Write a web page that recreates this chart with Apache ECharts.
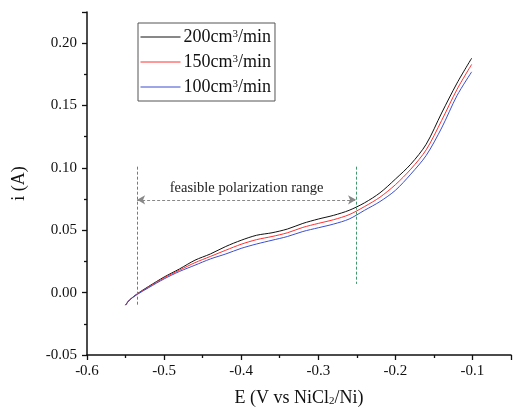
<!DOCTYPE html>
<html><head><meta charset="utf-8">
<script src="https://cdn.jsdelivr.net/npm/echarts@6/dist/echarts.min.js"></script>
<style>html,body{margin:0;padding:0;background:#fff}#c{width:514px;height:412px}</style>
</head><body><div id="c"></div>
<script>
const E = [-0.55,-0.545,-0.535,-0.52,-0.50,-0.48,-0.46,-0.44,-0.42,-0.40,-0.38,-0.36,-0.34,-0.32,-0.30,-0.28,-0.26,-0.24,-0.22,-0.20,-0.18,-0.16,-0.14,-0.12,-0.101];
const i200 = [-0.010,-0.006,-0.001,0.005,0.0125,0.019,0.026,0.031,0.037,0.042,0.046,0.048,0.051,0.0555,0.059,0.062,0.066,0.072,0.080,0.091,0.103,0.119,0.144,0.168,0.188];
const i150 = [-0.010,-0.006,-0.0012,0.0045,0.0118,0.018,0.024,0.029,0.034,0.0388,0.0425,0.045,0.048,0.0523,0.0555,0.0585,0.0625,0.069,0.0765,0.0865,0.099,0.1145,0.138,0.163,0.183];
const i100 = [-0.010,-0.006,-0.0015,0.004,0.011,0.017,0.022,0.027,0.031,0.0355,0.039,0.042,0.045,0.049,0.052,0.055,0.059,0.066,0.073,0.082,0.095,0.110,0.132,0.158,0.177];
const seriesNames = ['200', '150', '100'];
const xTicks = [-0.6,-0.5,-0.4,-0.3,-0.2,-0.1];
const yTicks = [-0.05,0,0.05,0.10,0.15,0.20];
const rangeStart = -0.535, rangeEnd = -0.251, arrowY = 0.0744;
const leftLine = [0.101, -0.0098], rightLine = [0.101, 0.007];

const FONT = "'Liberation Serif','Times New Roman',serif";
const pair = (xs, ys) => xs.map((x, k) => [x, ys[k]]);
const mk = (name, ys, color) => ({
  name: name, type: 'line', data: pair(E, ys), symbol: 'none', showSymbol: false, smooth: 0.3,
  lineStyle: {color: color, width: 1}, itemStyle: {color: color}, z: 3
});
const greenStyle = {color: '#3f9a6c', type: [3, 2], width: 1};
const chart = echarts.init(document.getElementById('c'));
chart.setOption({
  animation: false,
  backgroundColor: '#fff',
  textStyle: {fontFamily: FONT},
  grid: {left: 87, top: 12, width: 429, height: 345},
  legend: {
    orient: 'vertical', left: 138, top: 23, itemWidth: 40, itemHeight: 14, itemGap: 5,
    borderColor: '#555', borderWidth: 1, padding: [5, 4, 3, 2], borderRadius: 0,
    data: seriesNames,
    itemStyle: {opacity: 0, borderWidth: 0},
    lineStyle: {width: 1, inactiveWidth: 1},
    formatter: n => '{a|' + n + 'cm}{s|3}{a|/min}',
    textStyle: {fontFamily: FONT, padding: [0, 0, 0, -2], rich: {
      a: {fontSize: 18, fontFamily: FONT, color: '#111', lineHeight: 16},
      s: {fontSize: 11, fontFamily: FONT, color: '#111', lineHeight: 16, verticalAlign: 'top', padding: [0, 0, 8, 0]}
    }}
  },
  xAxis: {
    type: 'value', min: -0.6, max: -0.05, interval: 0.1,
    name: '{a|E (V vs NiCl}{s|2}{a|/Ni)}', nameLocation: 'middle', nameGap: 34,
    nameTextStyle: {rich: {
      a: {fontSize: 18, fontFamily: FONT, color: '#111'},
      s: {fontSize: 11, fontFamily: FONT, color: '#111', verticalAlign: 'bottom', padding: [7, 0, 0, 0]}
    }},
    axisLine: {show: true, onZero: false, lineStyle: {color: '#111', width: 1.5}},
    axisTick: {show: true, inside: false, length: 5, lineStyle: {color: '#111', width: 1.3}},
    minorTick: {show: true, splitNumber: 2, length: 3, lineStyle: {color: '#111', width: 1.3}},
    splitLine: {show: false},
    axisLabel: {fontSize: 15, fontFamily: FONT, color: '#111', margin: 9,
      formatter: v => xTicks.some(t => Math.abs(t - v) < 1e-6) ? v.toFixed(1) : ''}
  },
  yAxis: {
    type: 'value', min: -0.05, max: 0.225, interval: 0.05,
    name: 'i (A)', nameLocation: 'middle', nameGap: 59, nameRotate: 90,
    nameTextStyle: {fontSize: 18, fontFamily: FONT, color: '#111'},
    axisLine: {show: true, onZero: false, lineStyle: {color: '#111', width: 1.5}},
    axisTick: {show: true, inside: false, length: 5, lineStyle: {color: '#111', width: 1.3}},
    minorTick: {show: true, splitNumber: 2, length: 3, lineStyle: {color: '#111', width: 1.3}},
    splitLine: {show: false},
    axisLabel: {fontSize: 15, fontFamily: FONT, color: '#111', margin: 10,
      formatter: v => yTicks.some(t => Math.abs(t - v) < 1e-6) ? v.toFixed(2) : ''}
  },
  series: [
    mk(seriesNames[0], i200, '#111111'),
    mk(seriesNames[1], i150, '#ff3030'),
    mk(seriesNames[2], i100, '#3a4fd0'),
    {
      type: 'line', data: [], silent: true,
      markLine: {
        silent: true, animation: false,
        data: [
          [{coord: [rangeStart, leftLine[0]], symbol: 'none', lineStyle: greenStyle, label: {show: false}},
           {coord: [rangeStart, leftLine[1]], symbol: 'none', lineStyle: greenStyle, label: {show: false}}],
          [{coord: [rangeEnd, rightLine[0]], symbol: 'none', lineStyle: greenStyle, label: {show: false}},
           {coord: [rangeEnd, rightLine[1]], symbol: 'none', lineStyle: greenStyle, label: {show: false}}],
          [{coord: [rangeStart, arrowY], symbol: 'arrow', symbolSize: [7, 8]}, {coord: [rangeEnd, arrowY], symbol: 'arrow', symbolSize: [7, 8],
            lineStyle: {color: '#888', type: [3, 2], width: 1.2},
            label: {show: true, position: 'middle', formatter: 'feasible polarization range',
              fontSize: 14.5, fontFamily: FONT, color: '#222', distance: 4}}]
        ]
      }
    }
  ]
});
</script></body></html>
